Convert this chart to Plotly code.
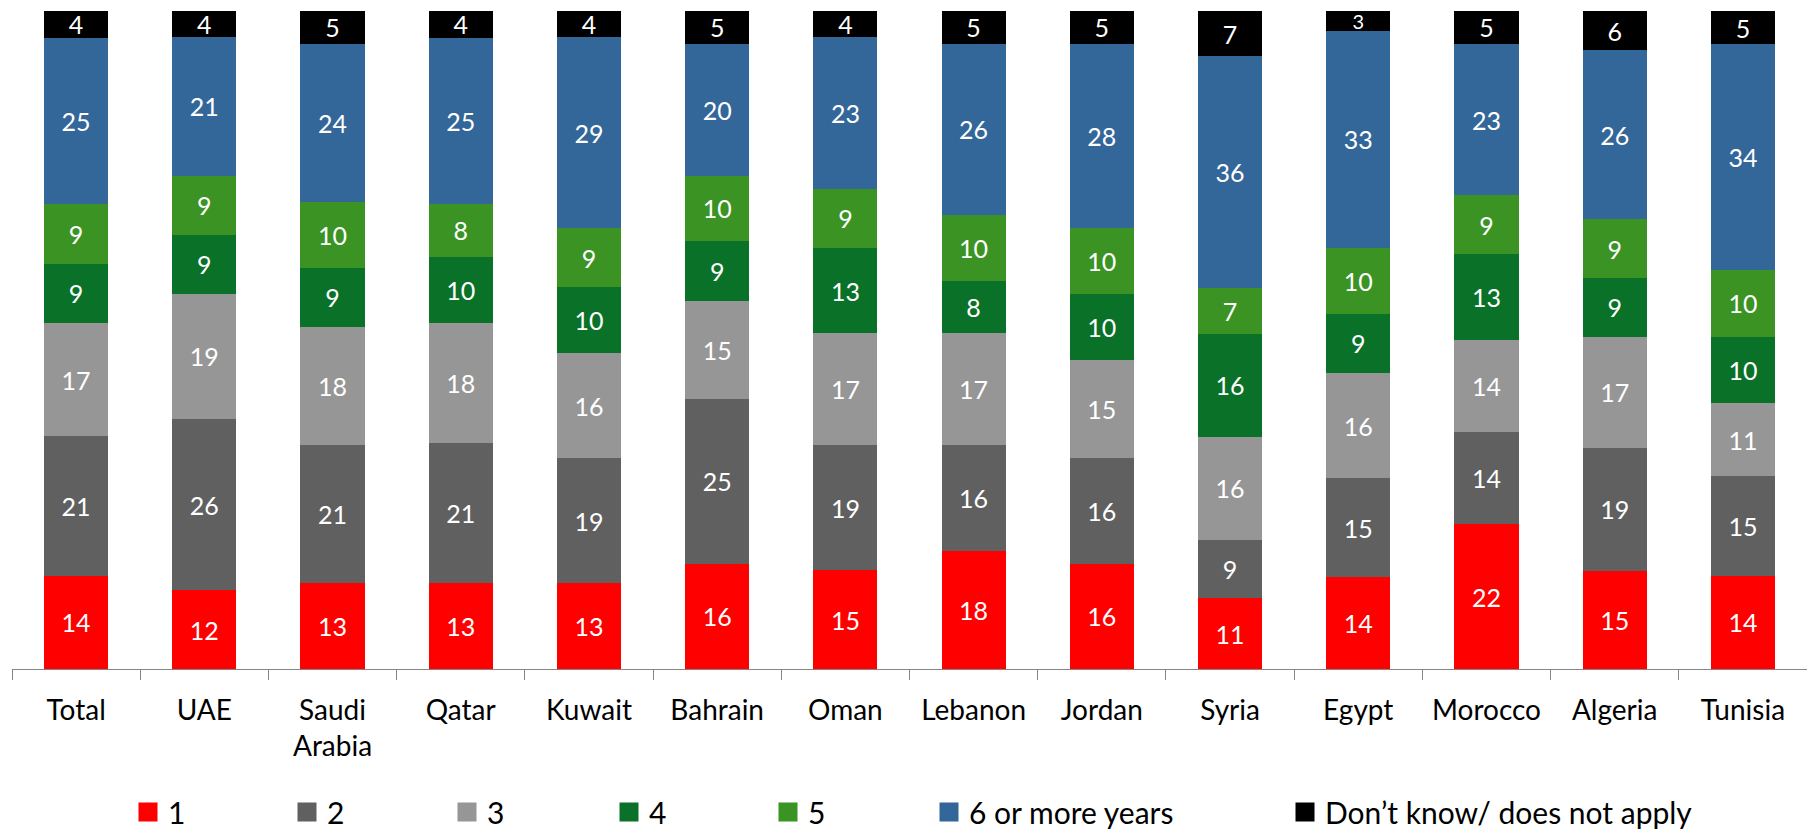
import plotly.graph_objects as go

categories = ["Total", "UAE", "Saudi<br>Arabia", "Qatar", "Kuwait", "Bahrain", "Oman",
              "Lebanon", "Jordan", "Syria", "Egypt", "Morocco", "Algeria", "Tunisia"]

series_names = ["1", "2", "3", "4", "5", "6 or more years", "Don’t know/ does not apply"]

s1 = [14, 12, 13, 13, 13, 16, 15, 18, 16, 11, 14, 22, 15, 14]
s2 = [21, 26, 21, 21, 19, 25, 19, 16, 16, 9, 15, 14, 19, 15]
s3 = [17, 19, 18, 18, 16, 15, 17, 17, 15, 16, 16, 14, 17, 11]
s4 = [9, 9, 9, 10, 10, 9, 13, 8, 10, 16, 9, 13, 9, 10]
s5 = [9, 9, 10, 8, 9, 10, 9, 10, 10, 7, 10, 9, 9, 10]
s6 = [25, 21, 24, 25, 29, 20, 23, 26, 28, 36, 33, 23, 26, 34]
s7 = [4, 4, 5, 4, 4, 5, 4, 5, 5, 7, 3, 5, 6, 5]

series_values = [s1, s2, s3, s4, s5, s6, s7]
colors = ["#FF0000", "#606060", "#969696", "#0A7128", "#3A9323", "#336699", "#000000"]

FONT = "Lato, Calibri, Carlito, sans-serif"

# page body has an 8px margin; positions below are figure-relative
OFF = 8
FIG_W, FIG_H = 1815 - OFF, 830 - OFF
L = 12 - OFF
W = 1795
TOP = 11 - OFF
BOTTOM = 669 - OFF
H = BOTTOM - TOP

fig = go.Figure()

for name, vals, col in zip(series_names, series_values, colors):
    fig.add_trace(go.Bar(
        x=categories, y=vals, name=name,
        marker=dict(color=col, line=dict(width=0)),
        text=vals, texttemplate="%{text}",
        textposition="inside", insidetextanchor="middle", textangle=0,
        textfont=dict(color="white", family=FONT,
                      size=[25 if v >= 4 else 20 for v in vals]),
        constraintext="none",
        showlegend=False,
    ))

# legend entries (one legend each, placed like the original)
legend_centers_px = [148, 307, 467, 629, 788, 949, 1305]
legend_layouts = {}
for i, (name, col, cx) in enumerate(zip(series_names, colors, legend_centers_px)):
    key = "legend" if i == 0 else f"legend{i+1}"
    fig.add_trace(go.Scatter(
        x=[None], y=[None], mode="markers", name=name,
        marker=dict(symbol="square", size=16, color=col, line=dict(color=col, width=3)),
        showlegend=True, legend=key, hoverinfo="skip",
    ))
    legend_layouts[key] = dict(
        x=(cx - OFF - 20 - L) / W, xanchor="left",
        y=-(812 - OFF - BOTTOM) / H, yanchor="middle",
        orientation="h", bgcolor="rgba(0,0,0,0)",
        font=dict(family=FONT, size=30, color="#000000"),
        itemwidth=30,
    )

fig.update_layout(
    barmode="stack", barnorm="percent", bargap=0.5,
    width=FIG_W, height=FIG_H,
    margin=dict(l=L, r=FIG_W - L - W, t=TOP, b=FIG_H - BOTTOM, autoexpand=False),
    plot_bgcolor="white", paper_bgcolor="white",
    font=dict(family=FONT, color="#000000"),
    xaxis=dict(
        showline=True, linecolor="#868686", linewidth=1,
        ticks="outside", ticklen=10, tickcolor="#868686", tickson="boundaries",
        tickfont=dict(family=FONT, size=28, color="#000000"),
        ticklabelstandoff=16,
        showgrid=False, zeroline=False, fixedrange=True, automargin=False,
    ),
    yaxis=dict(range=[0, 100], visible=False, showgrid=False, zeroline=False,
               fixedrange=True, automargin=False),
    **legend_layouts,
)

fig.write_html("out.html")
